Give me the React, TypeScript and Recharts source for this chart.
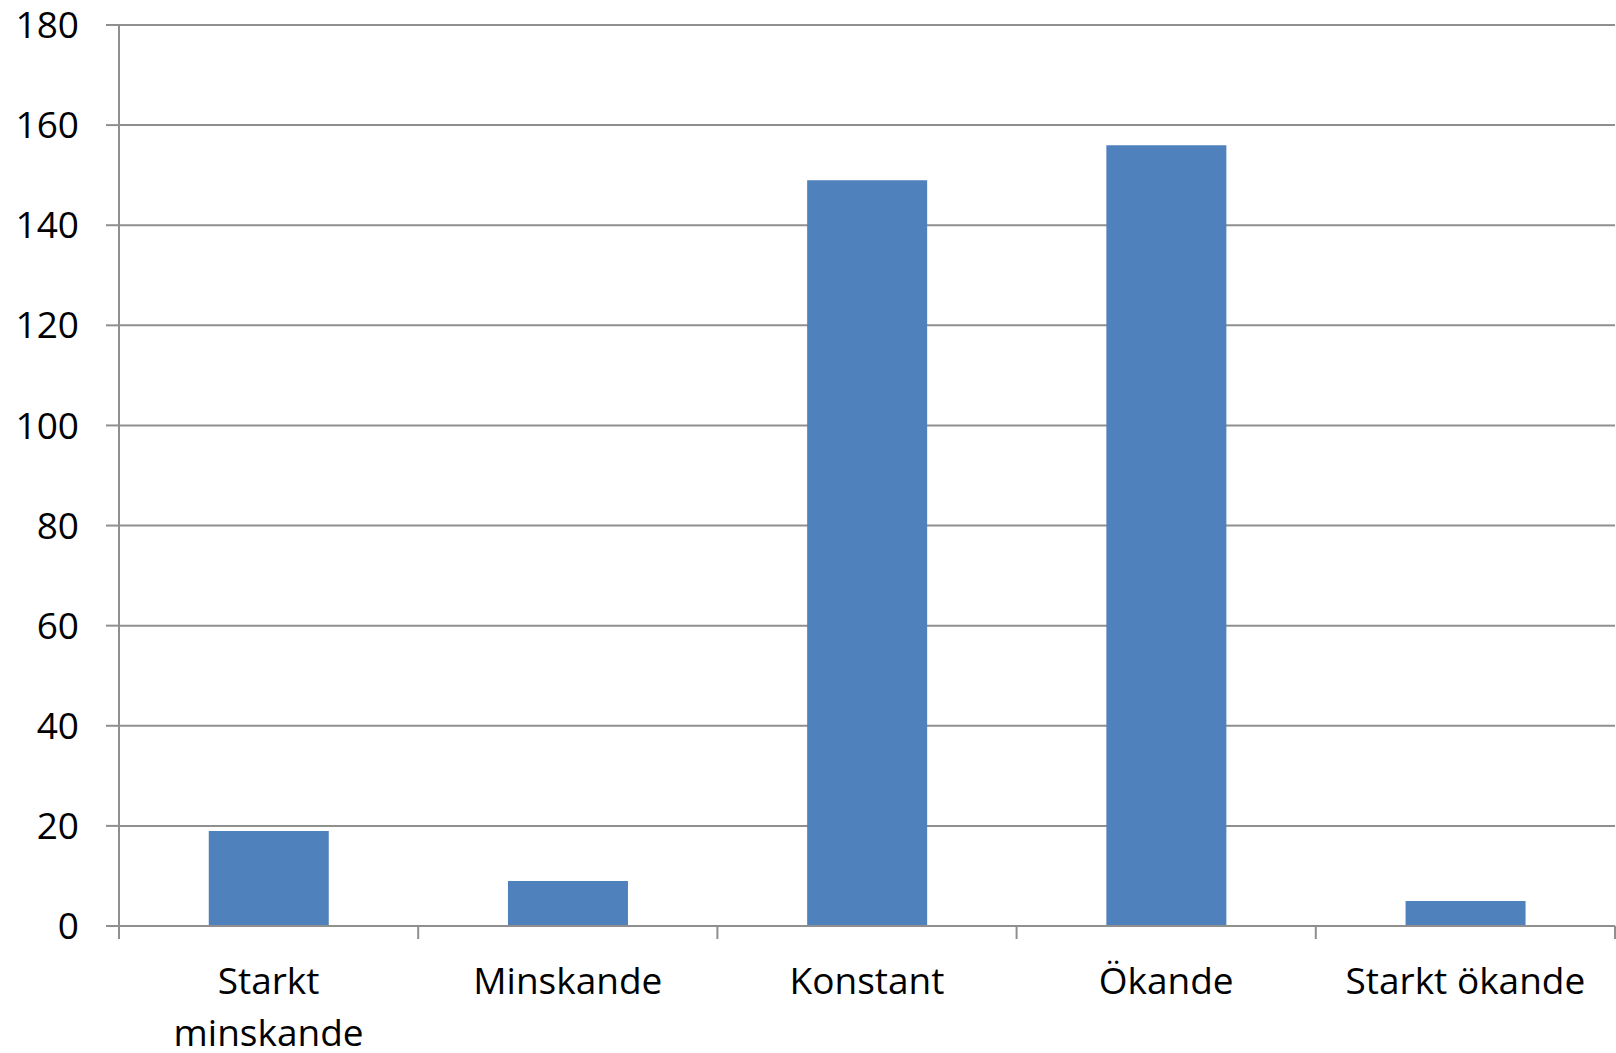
import { BarChart, Bar, XAxis, YAxis, CartesianGrid } from "recharts";

const categories = ["Starkt minskande", "Minskande", "Konstant", "Ökande", "Starkt ökande"];
const counts = [19, 9, 149, 156, 5];
const yTicks = [0, 20, 40, 60, 80, 100, 120, 140, 160, 180];

const data = categories.map((name, i) => ({ name, value: counts[i] }));

const FONT = "'Open Sans', 'Noto Sans', sans-serif";
const FONT_SIZE = 37;
const GRID = "#8f8f8f";
const X_TICK_SIZE = 13;
const X_TICK_MARGIN = 29;

let ctx: CanvasRenderingContext2D | null = null;
function measure(s: string) {
  if (!ctx) ctx = document.createElement("canvas").getContext("2d");
  if (!ctx) return s.length * FONT_SIZE * 0.5;
  ctx.font = `${FONT_SIZE}px ${FONT}`;
  return ctx.measureText(s).width;
}

// wrap words the way Excel does when a label is wider than its slot
function wrap(label: string, maxWidth: number) {
  const words = label.split(" ");
  const lines: string[] = [];
  let cur = "";
  for (const w of words) {
    const next = cur ? cur + " " + w : w;
    if (cur && measure(next) > maxWidth) {
      lines.push(cur);
      cur = w;
    } else cur = next;
  }
  if (cur) lines.push(cur);
  return lines;
}

function CategoryTick({ x, y, payload, index, visibleTicksCount }: any) {
  const half = payload.offset || 0;
  const axisY = y - X_TICK_MARGIN - X_TICK_SIZE;
  const lines = wrap(payload.value, 260);
  return (
    <g>
      <line x1={x - half} x2={x - half} y1={axisY} y2={axisY + X_TICK_SIZE} stroke={GRID} strokeWidth={2} />
      {index === visibleTicksCount - 1 && (
        <line x1={x + half} x2={x + half} y1={axisY} y2={axisY + X_TICK_SIZE} stroke={GRID} strokeWidth={2} />
      )}
      <text
        x={x}
        y={y}
        textAnchor="middle"
        fontSize={FONT_SIZE}
        fontFamily={FONT}
        fill="#000"
      >
        {lines.map((l, i) => (
          <tspan key={i} x={x} dy={i === 0 ? "0.71em" : 52}>
            {l}
          </tspan>
        ))}
      </text>
    </g>
  );
}

export default function App() {
  return (
    <div style={{ position: "absolute", left: 0, top: 0, background: "#fff" }}>
      <BarChart
        width={1616}
        height={1053}
        data={data}
        margin={{ top: 25, right: 1, left: 0, bottom: 0 }}
        barCategoryGap="30%"
      >
        <CartesianGrid vertical={false} stroke={GRID} strokeWidth={2} />
        <XAxis
          dataKey="name"
          height={127}
          axisLine={{ stroke: GRID, strokeWidth: 2 }}
          tickLine={false}
          tickSize={X_TICK_SIZE}
          tickMargin={X_TICK_MARGIN}
          tick={<CategoryTick />}
          interval={0}
        />
        <YAxis
          domain={[0, 180]}
          ticks={yTicks}
          width={119}
          axisLine={{ stroke: GRID, strokeWidth: 2 }}
          tickLine={{ stroke: GRID, strokeWidth: 2 }}
          tickSize={13}
          tickMargin={27}
          tick={{ fill: "#000", fontSize: FONT_SIZE, fontFamily: FONT }}
        />
        <Bar dataKey="value" fill="#4f81bd" isAnimationActive={false} />
      </BarChart>
    </div>
  );
}
